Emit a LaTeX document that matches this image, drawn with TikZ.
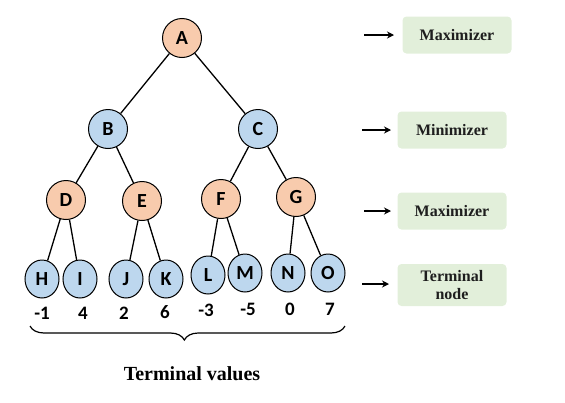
\documentclass[tikz,border=0pt]{standalone}
\usepackage{fontspec}
\setsansfont{Carlito}
\setmainfont{Liberation Serif}
\usepackage{tikz}
\usetikzlibrary{shapes.geometric,decorations.pathreplacing,arrows.meta}
\definecolor{MaxFill}{RGB}{248,203,173}
\definecolor{MinFill}{RGB}{189,215,238}
\definecolor{TagBg}{RGB}{226,239,218}
\definecolor{TagText}{RGB}{30,30,30}

\begin{document}
\begin{tikzpicture}[x=1pt,y=-1pt,
    maxnode/.style={circle,draw,line width=1pt,fill=MaxFill,minimum size=39pt,inner sep=0pt,
      font=\sffamily\bfseries\fontsize{20}{20}\selectfont},
    minnode/.style={circle,draw,line width=1pt,fill=MinFill,minimum size=39pt,inner sep=0pt,
      font=\sffamily\bfseries\fontsize{20}{20}\selectfont},
    leaf/.style={ellipse,draw,line width=1pt,fill=MinFill,minimum width=34pt,minimum height=38pt,inner sep=0pt,
      font=\sffamily\bfseries\fontsize{20}{20}\selectfont},
    val/.style={font=\sffamily\bfseries\fontsize{19}{19}\selectfont},
    tag/.style={fill=TagBg,rounded corners=4pt,minimum width=109pt,minimum height=37pt,align=center,
      text=TagText,font=\bfseries\fontsize{16}{18}\selectfont},
    edge/.style={line width=1.3pt},
    pointer/.style={line width=1.8pt,-{Stealth[length=7pt,width=7pt]}}]
  \useasboundingbox (0,0) rectangle (565,402);

  % tree
  \node[maxnode] (A) at (182,38) {A};
  \node[minnode] (B) at (108,129) {B};
  \node[minnode] (C) at (258,129) {C};
  \node[maxnode] (D) at (66,200) {D};
  \node[maxnode] (E) at (142,201) {E};
  \node[maxnode] (F) at (221,199) {F};
  \node[maxnode] (G) at (296,197) {G};
  \node[leaf] (H) at (42,279) {H};
  \node[leaf] (I) at (80,279) {I};
  \node[leaf] (J) at (126,279) {J};
  \node[leaf] (K) at (166,279) {K};
  \node[leaf] (L) at (208,275) {L};
  \node[leaf] (M) at (245,273) {M};
  \node[leaf] (N) at (288,273) {N};
  \node[leaf] (O) at (328,273) {O};

  \draw[edge] (A) -- (B);
  \draw[edge] (A) -- (C);
  \draw[edge] (B) -- (D);
  \draw[edge] (B) -- (E);
  \draw[edge] (C) -- (F);
  \draw[edge] (C) -- (G);
  \draw[edge] (D) -- (H);
  \draw[edge] (D) -- (I);
  \draw[edge] (E) -- (J);
  \draw[edge] (E) -- (K);
  \draw[edge] (F) -- (L);
  \draw[edge] (F) -- (M);
  \draw[edge] (G) -- (N);
  \draw[edge] (G) -- (O);

  % terminal values
  \node[val] (vH) at (42,313) {-1};
  \node[val] (vI) at (83,313) {4};
  \node[val] (vJ) at (124,313) {2};
  \node[val] (vK) at (165,312) {6};
  \node[val] (vL) at (206,310) {-3};
  \node[val] (vM) at (248,309) {-5};
  \node[val] (vN) at (290,309) {0};
  \node[val] (vO) at (330,309) {7};

  \coordinate (braceL) at (30,326);
  \coordinate (braceR) at (345,326);
  \draw[line width=1.2pt,decorate,decoration={brace,mirror,amplitude=14pt,aspect=0.49}] (braceL) -- (braceR);
  \node[font=\bfseries\fontsize{20}{22}\selectfont] (total) at (192,374) {Terminal values};

  % level tags
  \node[tag] (t1) at (457,35) {Maximizer};
  \node[tag] (t2) at (452,130) {Minimizer};
  \node[tag] (t3) at (452,211) {Maximizer};
  \node[tag,minimum height=42pt] (t4) at (452,285) {Terminal\\node};

  \coordinate (p1) at (364,35);
  \coordinate (p2) at (362,130);
  \coordinate (p3) at (364,211);
  \coordinate (p4) at (362,284);
  \draw[pointer] (p1) -- ++(30,0);
  \draw[pointer] (p2) -- ++(29,0);
  \draw[pointer] (p3) -- ++(27,0);
  \draw[pointer] (p4) -- ++(27,0);
\end{tikzpicture}
\end{document}
